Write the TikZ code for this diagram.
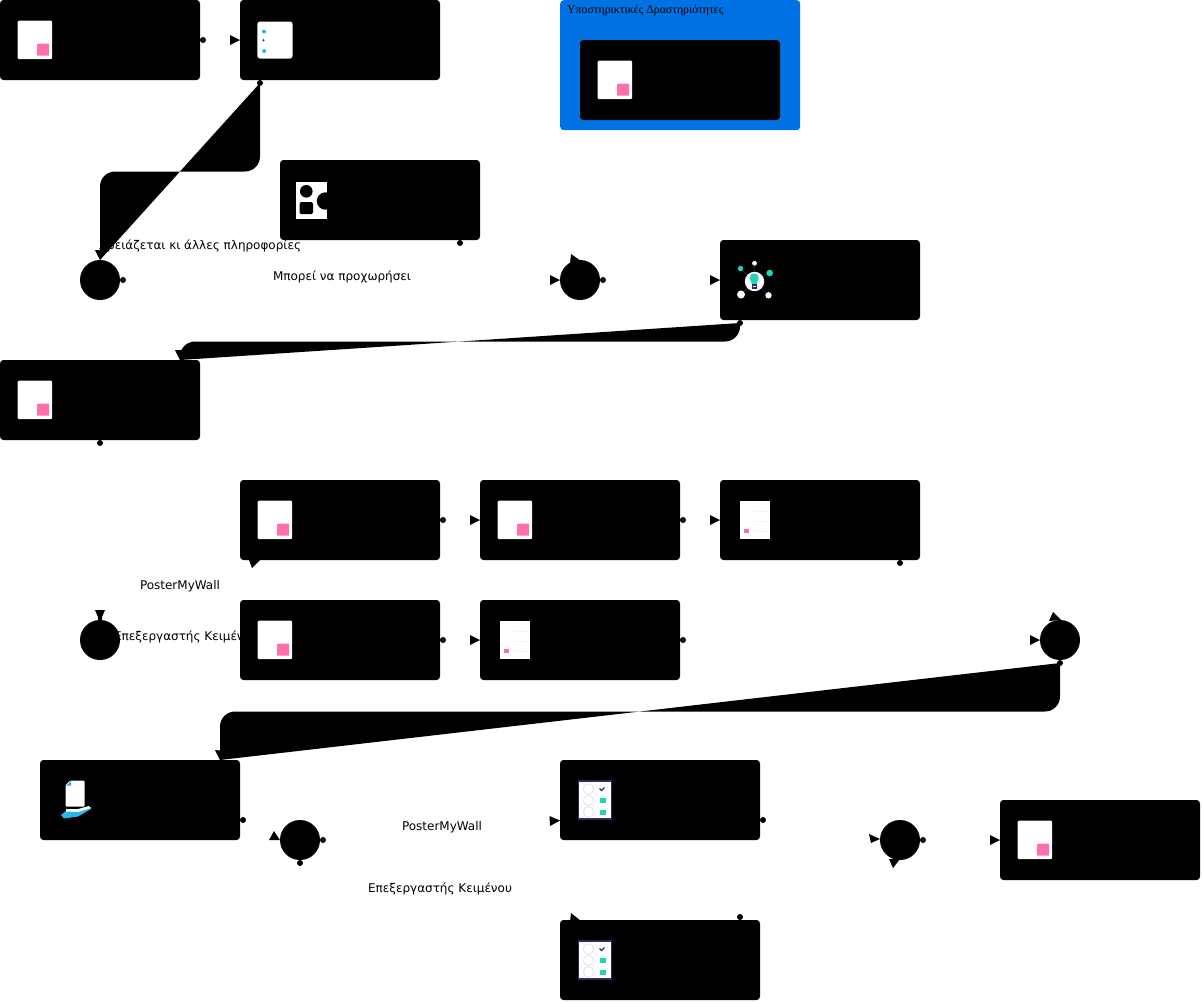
\documentclass[tikz,border=0pt]{standalone}
\usepackage{fontspec}
\setmainfont{DejaVu Sans}
\newfontfamily\titlefont{Liberation Serif}
\definecolor{paneblue}{RGB}{0,114,227}
\definecolor{iconpink}{RGB}{255,111,174}
\definecolor{iconcyan}{RGB}{41,182,232}
\definecolor{iconteal}{RGB}{30,214,182}
\definecolor{iconnavy}{RGB}{42,42,106}
\definecolor{iconline}{RGB}{222,222,228}
\tikzset{
  taskbox/.style={fill=black,draw=none,rounded corners=3.5,anchor=north west,minimum width=200,minimum height=80,inner sep=0,outer sep=0},
  gate/.style={circle,fill=black,draw=none,minimum size=40,inner sep=0,outer sep=0},
  portdot/.style={circle,fill=black,draw=none,minimum size=6,inner sep=0,outer sep=0},
  lbl/.style={font=\fontsize{12}{14}\selectfont,text=black,inner sep=0},
  tip/.style={fill=black,draw=none},
  flow/.style={fill=black,draw=none},
  sheet/.style={fill=white,draw=none,rounded corners=1.2}
}
% page icon with a pink square; #1,#2 = top left corner
\newcommand{\pinkpage}[2]{%
  \begin{scope}[shift={(#1,#2)}]
    \fill[sheet] (0,0) rectangle (34.5,38.5);
    \fill[iconpink,rounded corners=0.6] (19.5,23) rectangle (31.5,35);
  \end{scope}}
\newcommand{\notedoc}[2]{%
  \begin{scope}[shift={(#1,#2)}]
    \fill[white] (0,0) rectangle (30.5,38.5);
    \fill[iconpink] (4.5,28) rectangle (9,32);
    \draw[iconpink!12,line width=0.35] (14.5,10.5) -- (28,10.5) (14.5,20.5) -- (28,20.5) (14.5,30) -- (28,30);
  \end{scope}}
\newcommand{\checkdoc}[2]{%
  \begin{scope}[shift={(#1,#2)}]
    \fill[white,draw=iconnavy,line width=1.1] (0,0) rectangle (33,38);
    \foreach \yy in {8,19.5,31}
      \draw[iconline,line width=0.6] (10,\yy) circle (5.2);
    \draw[iconnavy,line width=1.2] (21,7.5) -- (23,9.5) -- (26,6.5);
    \fill[iconteal] (21.5,17) rectangle (27.5,22);
    \fill[iconteal] (21.5,29) rectangle (27.5,34);
  \end{scope}}
\begin{document}
\begin{tikzpicture}[x=1pt,y=-1pt]
\useasboundingbox (0,0) rectangle (1202,1002);
% labels lying under the shapes
\node[lbl] (lbMore) at (200,246) {Χρειάζεται κι άλλες πληροφορίες};
\node[lbl] (lbGo) at (342,277) {Μπορεί να προχωρήσει};
\node[lbl] (lbPoster1) at (180,586) {PosterMyWall};
\node[lbl] (lbEdit1) at (186,637) {Επεξεργαστής Κειμένου};
\node[lbl] (lbPoster2) at (442,827) {PosterMyWall};
\node[lbl] (lbEdit2) at (440,889) {Επεξεργαστής Κειμένου};
% pool
\node[fill=paneblue,rounded corners=3.5,anchor=north west,minimum width=240,minimum height=130,inner sep=0] (pool) at (560,0) {};
\node[anchor=west,inner sep=0,font=\titlefont\fontsize{11.8}{14}\selectfont,text=black] (poolTitle) at (567,11) {Υποστηρικτικές Δραστηριότητες};
% tasks
\node[taskbox] (a) at (0,0) {};
\node[taskbox] (b) at (240,0) {};
\node[taskbox] (s) at (580,40) {};
\node[taskbox] (c) at (280,160) {};
\node[taskbox] (d) at (720,240) {};
\node[taskbox] (e) at (0,360) {};
\node[taskbox] (f) at (240,480) {};
\node[taskbox] (g) at (480,480) {};
\node[taskbox] (h) at (720,480) {};
\node[taskbox] (i) at (240,600) {};
\node[taskbox] (j) at (480,600) {};
\node[taskbox] (k) at (40,760) {};
\node[taskbox] (l) at (560,760) {};
\node[taskbox] (m) at (560,920) {};
\node[taskbox] (n) at (1000,800) {};
% gateways
\node[gate] (g1) at (100,280) {};
\node[gate] (g2) at (580,280) {};
\node[gate] (g3) at (100,640) {};
\node[gate] (g4) at (1060,640) {};
\node[gate] (g5) at (300,840) {};
\node[gate] (g6) at (900,840) {};
% source dots
\foreach \nm/\px/\py in {p1/203/40,p2/260/83,p3/460/243,p4/123/280,p5/603/280,p6/740/323,p7/100/443,p8/443/520,p9/683/520,p10/900/563,p11/443/640,p12/683/640,p13/1060/663,p14/243/820,p15/323/840,p16/300/863,p17/763/820,p18/923/840,p19/740/917}
  \node[portdot] (\nm) at (\px,\py) {};
% filled connectors
\coordinate (e1) at (100,260);
\coordinate (e2) at (180,360);
\coordinate (e3) at (220,760);
\fill[flow] (p2.center) [rounded corners=15] -- (260,171.5) -- (100,171.5) [sharp corners] -- (e1) -- cycle;
\fill[flow] (p6.center) [rounded corners=15] -- (740,341.5) -- (180,341.5) [sharp corners] -- (e2) -- cycle;
\fill[flow] (p13.center) [rounded corners=15] -- (1060,711.5) -- (220,711.5) [sharp corners] -- (e3) -- cycle;
% arrowheads
\fill[tip] (230,35) -- (240,40) -- (230,45) -- cycle;
\fill[tip] (550,275) -- (560,280) -- (550,285) -- cycle;
\fill[tip] (710,275) -- (720,280) -- (710,285) -- cycle;
\fill[tip] (470,515) -- (480,520) -- (470,525) -- cycle;
\fill[tip] (710,515) -- (720,520) -- (710,525) -- cycle;
\fill[tip] (470,635) -- (480,640) -- (470,645) -- cycle;
\fill[tip] (1030,635) -- (1040,640) -- (1030,645) -- cycle;
\fill[tip] (990,835) -- (1000,840) -- (990,845) -- cycle;
\fill[tip] (549.5,816) -- (560,820.5) -- (550,826) -- cycle;
\fill[tip] (869,834) -- (880,839) -- (871,843) -- cycle;
\fill[tip] (889,859) -- (900,859) -- (893,868) -- cycle;
\fill[tip] (571,254) -- (581,261) -- (570,264) -- cycle;
\fill[tip] (571,913) -- (581,921) -- (570,922) -- cycle;
\fill[tip] (1049,621) -- (1053,612) -- (1061,620) -- cycle;
\fill[tip] (269,840) -- (274,831) -- (280,840) -- cycle;
\fill[tip] (249,560) -- (260,560) -- (252,568) -- cycle;
\fill[tip] (95,610) -- (105,610) -- (102,617) -- (102,621) -- (98,621) -- (98,617) -- cycle;
\fill[tip] (175,350) -- (185,350) -- (180,360) -- cycle;
\fill[tip] (95,250) -- (105,250) -- (100,260) -- cycle;
\fill[tip] (215,750) -- (225,751) -- (220,760) -- cycle;
% icons
\pinkpage{17.7}{20.7}
\pinkpage{597.7}{60.7}
\pinkpage{17.7}{380.7}
\pinkpage{257.7}{500.7}
\pinkpage{497.7}{500.7}
\pinkpage{257.7}{620.7}
\pinkpage{1017.7}{820.7}
\notedoc{739.7}{500.7}
\notedoc{499.7}{620.7}
\checkdoc{578.5}{781}
\checkdoc{578.5}{941}
% icon of task b
\fill[white,rounded corners=2.8] (257.3,21.5) rectangle (292.7,58.5);
\fill[iconcyan] (264,31.5) circle (2) (264.2,51) circle (2);
\fill[iconnavy] (263.5,40.3) circle (1.1);
% icon of task c
\fill[white] (295.7,181.5) rectangle (327,218.5);
\fill[black] (306.3,191.3) circle (6.3);
\fill[black,rounded corners=1.5] (299.5,202) rectangle (313,214);
\fill[black] (325.5,201) circle (8.7);
% icon of task d
\draw[iconnavy,line width=0.6] (754,281) -- (740.5,268.5) (754,281) -- (754.5,263) (754,281) -- (769.5,273) (754,281) -- (741,294.5) (754,281) -- (768.5,295.5);
\fill[white] (754.5,281.5) circle (9.7);
\fill[iconteal] (754.2,273.5) .. controls (751,273.5) and (749.5,276) .. (749.8,278.5) .. controls (750,281) and (751.5,282) .. (752,284) -- (756.5,284) .. controls (757,282) and (758.5,281) .. (758.7,278.5) .. controls (759,276) and (757.4,273.5) .. (754.2,273.5) -- cycle;
\fill[iconnavy] (751.5,284) rectangle (757,289);
\fill[white] (753,285.5) rectangle (755.5,287);
\fill[iconteal] (740.5,268.5) circle (2.7) (769.7,273) circle (3.3);
\fill[white] (754.5,263.3) circle (2.4) (741,294.5) circle (4) (768.5,295.3) circle (3.2);
% icon of task k
\fill[white,rounded corners=1] (65.5,785) -- (70,780.7) -- (84.5,780.7) -- (84.5,806.5) -- (65.5,806.5) -- cycle;
\fill[iconcyan] (66,785.5) -- (71,781) -- (71,785.5) -- cycle;
\fill[iconcyan] (61,815) -- (66,811) -- (78,811) -- (91,807.5) -- (91,809) -- (78,816.5) -- (64,818.5) -- cycle;
\fill[white] (66,809) -- (78,809) -- (89,806) -- (91,808) -- (78,812) -- (66,811.5) -- cycle;
\end{tikzpicture}
\end{document}
